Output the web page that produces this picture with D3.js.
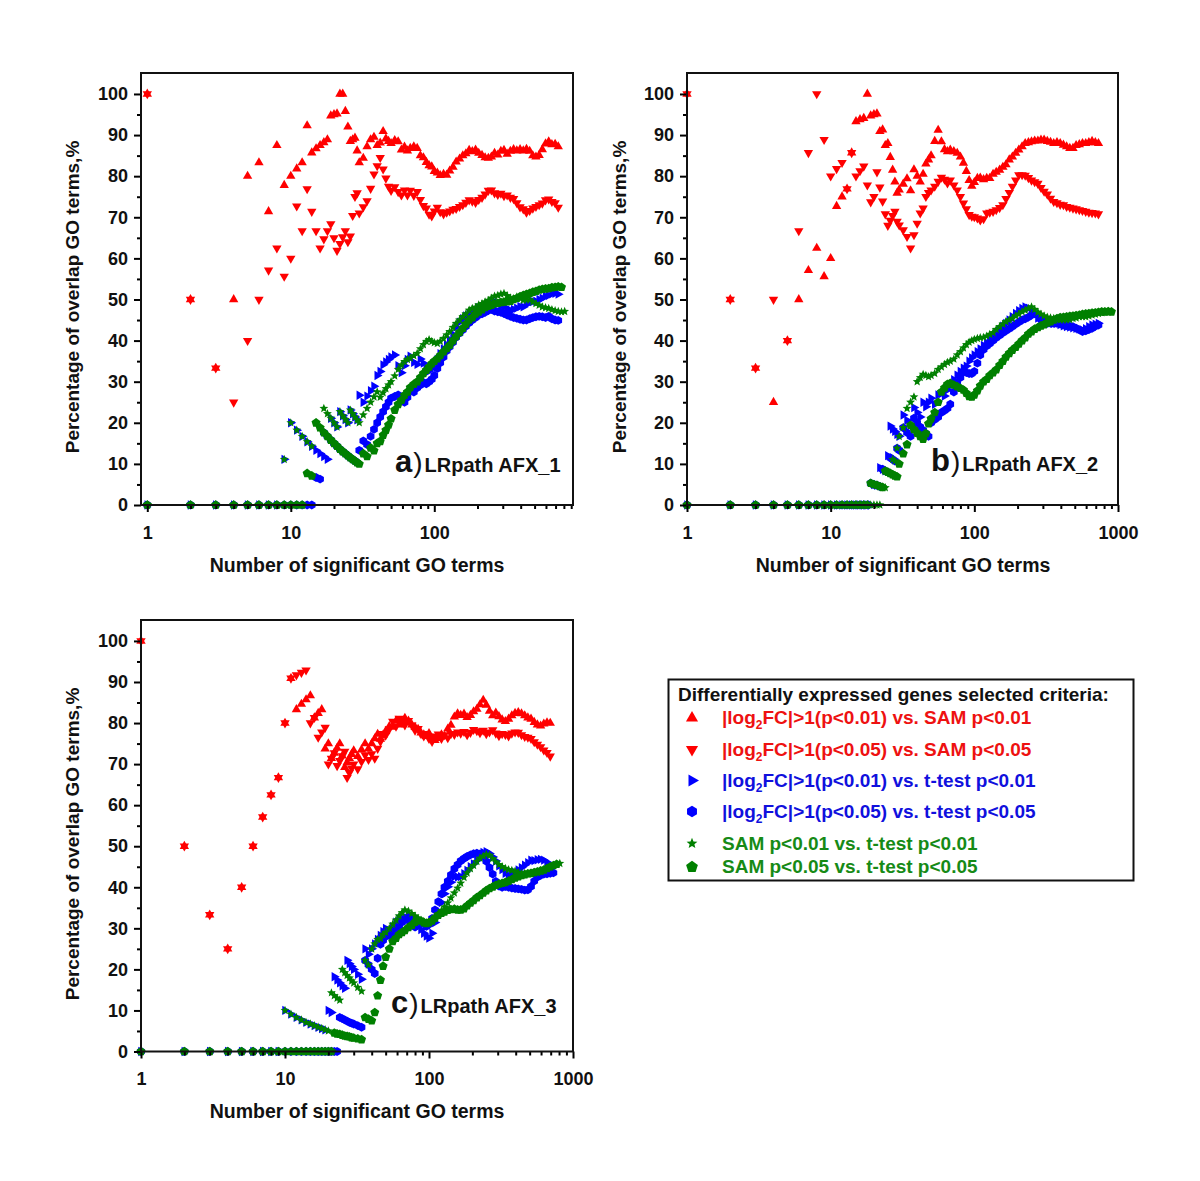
<!DOCTYPE html>
<html><head><meta charset="utf-8">
<script src="https://cdn.jsdelivr.net/npm/d3@7"></script>
<style>body{margin:0;background:#fff}svg text{font-family:Arial,"Liberation Sans",sans-serif}</style>
</head><body><svg id="chart" width="1200" height="1181"></svg>
<script>
// ---------- DATA ----------
const nTerms = [1,2,3,4,5,6,7,8,9,10,11,12,13,14,15,16,17,18,19,20,21,22,23,24,25,26,27,28,29,
30,32,34,36,38,40,42,44,46,48,50,
53,56,59,62,65,68,72,76,80,84,88,92,96,100,
105,110,116,122,128,135,142,150,158,166,175,184,194,204,
215,226,238,250,263,277,291,306,322,339,357,376,396,
417,439,462,486,511,538,566,596,627,660,695,731,
770,810,855,900];

const seriesLabels = [
  "|log2FC|>1(p<0.01) vs. SAM p<0.01",
  "|log2FC|>1(p<0.05) vs. SAM p<0.05",
  "|log2FC|>1(p<0.01) vs. t-test p<0.01",
  "|log2FC|>1(p<0.05) vs. t-test p<0.05",
  "SAM p<0.01 vs. t-test p<0.01",
  "SAM p<0.05 vs. t-test p<0.05"
];
const legendTitle = "Differentially expressed genes selected criteria:";
const panelLetters = ["a","b","c"];
const panelNames = ["LRpath AFX_1","LRpath AFX_2","LRpath AFX_3"];
const yTicks = [0,10,20,30,40,50,60,70,80,90,100];
const xTitle = "Number of significant GO terms";
const yTitle = "Percentage of overlap GO terms,%";

// Panel a
const aUp = [100,50,33.3,50,80,83.3,71.4,87.5,77.8,80,
81.8,83.3,92.3,85.7,86.7,87.5,88.2,88.9,94.7,95,
95.2,100,100,95.8,92,88.5,88.9,89.3,86.2,
83.3,84.4,87.2,88.9,89.5,87.5,88.1,90.9,89.1,88.5,88,
88.7,88.4,86.4,87.1,86.2,86.8,87.2,86.8,85,84.5,83.4,82.6,82.3,81.2,
80.8,80.2,80.5,80.3,81.3,82.2,83.5,84.2,85,85.5,86.3,86,86.4,85.6,
85.1,84.5,84.4,84.7,85.6,85.2,86.1,86.3,85.4,86.1,86.5,86.2,86.5,
86.2,86.6,86.1,85,84.7,85.1,86.5,87.9,88.4,87.7,87.8,87.2];
const aDown = [100,50,33.3,25,40,50,57.1,62.5,55.6,60,
72.7,66.7,76.9,71.4,66.7,62.5,64.7,66.7,68.4,65,
61.9,63.6,65.2,66.7,64,65.4,70.4,75,75.9,
71,72.5,74,77,80.5,82.5,84.5,81.7,79.5,77.5,76.5,
77.4,76.2,75.4,76.6,75.4,76.5,75.3,76.2,74.3,72.8,72.2,70.7,70.3,71.5,
72.4,71.3,70.8,71.2,71.5,71.9,72.1,72.6,73,73.6,74.2,73.9,73.6,74.3,
74.8,75.6,76.5,76.6,75.9,75.5,75.8,75.2,75.4,74.8,74.5,73.5,72.5,
72,71.2,71.6,72.2,72.6,73,73.4,74.2,74.4,73.8,73.5,72.4];
const aTri = [0,0,0,0,0,0,0,0,11.1,20,
18.2,16.7,15.4,14.3,13.3,12.5,11.8,11.1,21.1,20,
19,22.7,21.7,20.8,20,23.1,22.2,21.4,20.7,
26.7,25,26.5,27.8,28.9,31.5,32.5,34.1,34.8,35.4,36,
36.5,33.9,32.2,33.9,35.4,36.2,34.7,34.2,35.5,34.5,33,32.6,33.3,34.5,
35.4,36.8,38,39,40.2,41.5,43.3,44.5,45.3,46,46.6,47,47.4,48,
47.6,48.3,49,49.3,49.5,49,48.5,48.2,47.6,47.4,47.6,47.9,48.3,
48.2,48.8,49.3,49.5,49.6,50,50.3,50.8,51,51.4,51.5,51.3];
const aHex = [0,0,0,0,0,0,0,0,0,0,
0,0,0,0,6.7,6.3,17.6,16.7,15.8,15,
14.3,13.6,13,12.5,12,11.5,11.1,10.7,10.3,
13.3,15.6,14.7,16.7,18.4,20,21.4,22.7,23.9,25,26,
26.4,26.8,25.4,25,26.2,27.9,27.5,28.5,29.2,29.8,29.5,30,30.6,31.5,
33.2,34.6,36,37.5,38.5,39.6,40.8,41.8,42.6,43.5,44.3,45,45.6,46.2,
46.5,46.9,47.3,47.6,47.2,47,46.9,46.6,46.2,45.9,45.6,45.4,45.2,
45,45,45.3,45.6,45.8,45.9,45.8,45.6,45.9,45.3,45,44.9];
const aStar = [0,0,0,0,0,0,0,0,11.1,20,
18.2,16.7,15.4,14.3,20,18.8,23.5,22.2,21.1,20,
19,22.7,21.7,20.8,20,23.1,22.2,21.4,20.7,
20,21.9,23.5,25,26.3,27.5,26.2,27.3,28.3,29.2,30,
31.4,33,34,34.9,35.4,35.7,36.3,36.9,38,39,39.8,40.2,39.8,39.5,
39.3,39.8,40.5,41.4,42.2,43.2,44.2,45,45.8,46.5,47.4,47.8,48.1,48.7,
49,49.4,49.8,50.3,50.8,51,51.3,51.5,50.9,50.4,50.2,50.6,50.3,
49.8,49.9,49.9,49.4,49,48.6,48.2,48,47.8,47.5,47.3,47.1,
47,47.1];
const aPent = [0,0,0,0,0,0,0,0,0,0,
0,0,7.7,7.1,20,18.8,17.6,16.7,15.8,15,
14.3,13.6,13,12.5,12,11.5,11.1,10.7,10.3,
10,12.5,11.8,13.9,13.2,15,15.5,17,18.2,19.5,21,
23.1,24.5,25.5,26.7,27.5,28.6,29.4,30,31,32,32.8,33.6,34.4,35,
35.6,36.4,37.3,38.1,38.9,40,41,42,43,44,45,45.6,46.5,47,
47.5,48.1,48.4,48.6,49,49.1,49.3,49.4,49.5,49.6,50,50.3,50.7,
51,51.3,51.5,51.8,52,52.3,52.5,52.6,52.7,52.9,53,53.1,
53];

// Panel b
const bUp = [100,50,33.3,25,40,50,57.1,62.5,55.6,60,
72.7,75,76.9,85.7,93.3,93.8,94.1,100,94.7,95,
95.2,90.9,91.3,87.5,88,84.6,81.5,78.6,75.9,
76.7,78.1,79.4,76.5,81.6,80,78.6,80.5,83,84,85,
88.5,91.2,88.4,86.5,86,86.4,86,85.6,84.7,83.2,81.2,79,77.6,78.5,
79.5,79.6,79.2,79.5,79.5,80.5,81,81.5,82.2,82.8,84,84.7,85.6,86.4,
87.2,88,88.2,88.4,88.6,88.6,88.8,88.8,88.5,88.3,88,88.2,88,
87.6,87.2,86.8,86.8,87.5,87.7,88,88,88.2,88.5,88.2,88];
const bDown = [100,50,33.3,50,40,66.7,85.7,100,88.9,80,
81.8,83.3,76.9,85.7,80,81.3,82.4,77.8,73.7,75,
81,77.3,73.9,70.8,68,69.2,70.4,71.4,69,
68.1,66.9,65.3,62.5,65.7,68.5,71,72.2,75,76,76.6,
77.5,78.7,79.7,79.2,78.3,79,77.8,76.6,75,73.4,72,70.6,70.2,70.1,
69.8,69.3,69.6,71,71.2,71.4,71.8,72.3,73,74.5,76,77.5,79,80.3,
80.3,80.2,79.6,79,78.6,78.2,77.2,76.3,75.6,74.6,73.8,73.5,73.1,
73,72.6,72.4,72.2,72,71.8,71.6,71.4,71.2,71.1,71,70.8];
const bTri = [0,0,0,0,0,0,0,0,0,0,
0,0,0,0,0,0,0,0,0,5,
4.8,9.1,8.7,8.3,12,19.2,18.5,17.9,17.2,
16.7,21.9,20.6,19.4,23.7,22.5,21.4,25,23.9,25,26,
24.5,26.8,27.1,26.5,28,29,30.5,31.6,32.5,33.3,33.8,35,35.8,36.5,
37.3,38,38.8,39.5,40.3,41,41.9,42.6,43.5,44.2,45,45.8,46.6,47.3,
47.8,48.2,47.9,47.5,46.5,45.5,45,44.6,44.4,44.3,44.2,44.2,43.9,
43.6,43.4,43.3,43.1,43,42.8,42.6,42.9,43.4,43.8,44,44.2];
const bHex = [0,0,0,0,0,0,0,0,0,0,
0,0,0,0,0,0,0,0,5.3,5,
4.8,4.5,8.7,8.3,8,11.5,11.1,10.7,13.8,
13.3,18.8,17.6,16.7,21.1,20,19,18.2,17.4,16.7,20,
20.8,21.4,22.5,23,23.5,24.5,27.5,29.5,31,32.4,32.2,32,32,32.5,
34.5,36.5,37.8,38.7,39.3,40,40.7,41.3,41.9,42.4,42.9,43.4,44,44.5,
45,45.3,45.7,46.2,46.5,46.3,45.2,44.6,44.2,44.2,44.2,44.2,44,
43.8,43.6,43.5,43.4,43,42.6,42.2,42.4,42.7,43,43.5,43.8];
const bStar = [0,0,0,0,0,0,0,0,0,0,
0,0,0,0,0,0,0,0,0,0,
0,0,4.3,4.2,8,7.7,11.1,10.7,13.8,
16.7,18.8,23.5,25,26.3,30,31,31.8,31.5,31.2,31.5,
32,33,33.6,34.2,34.7,35,35.5,36.5,37.3,38.2,39,39.6,40,40.3,
40.5,40.7,40.8,41.1,41.5,41.9,42.7,43.4,44,44.6,45,45.4,46,46.4,
47,47.4,47.8,48.2,47.6,46.9,46.4,46,45.7,45.5,45.4,45.2,45,
45,45,45.1,45.4,45.5,45.8,45.8,45.8,46,46.2,46.4,46.6,
46.8,46.9,47];
const bPent = [0,0,0,0,0,0,0,0,0,0,
0,0,0,0,0,0,0,0,5.3,5,
4.8,4.5,4.3,8.3,8,7.7,7.4,7.1,6.9,
10,12.5,14.7,19.4,18.4,17.5,16.7,16,17.4,19.8,21,
22.5,25,27.5,28.5,29.4,29.6,29.2,28.8,28.4,28,27.2,26.4,26.3,26.8,
27.8,29,30,30.6,31.5,32.2,32.9,34,35,36,36.9,37.7,38.4,39.2,
40,40.7,41.6,42.2,42.8,43.2,43.6,43.9,44.3,44.6,45,45.4,45.6,
45.7,45.8,45.9,46,46.1,46.2,46.4,46.5,46.6,46.7,46.8,46.9,
47,47,47.1,47];

// Panel c
const cUp = [100,50,33.3,25,40,50,57.1,62.5,66.7,80,
90.9,83.3,84.6,85.7,86.7,81.3,82.4,83.3,73.7,75,
71.4,72.7,73.9,75,72,69.2,70.4,71.4,72.4,
73.3,71.9,73.5,75,73.7,75,76.2,77.3,76.1,77.1,78,
79.2,79,80.5,79.6,80,81.2,80.5,79.6,79,78.5,77.6,77.2,76.8,77.5,
76.2,75.8,76.3,77.2,76.8,78.6,79.5,81.5,82.3,81.9,82.2,81.4,81.9,82.8,
83.4,84.5,85.6,84.4,82.9,81.8,82.5,81.6,80.8,80.4,81,81.8,82.4,
82.6,82.3,81.8,81.3,81,80.2,79.6,79.3,79.8,80.1,80];
const cDown = [100,50,33.3,25,40,50,57.1,62.5,66.7,80,
90.9,91.7,92.3,92.9,80,81.3,76.5,77.8,78.9,70,
71.4,72.7,69.6,70.8,72,73.1,66.7,67.9,69,
70,68.8,70.6,72.2,71.1,72.5,71.4,73.8,75.5,77.4,77,
78.5,80.4,79.2,81.1,80.1,79.5,80.6,79.5,78.2,78.6,77.4,76.8,77.4,76.2,
75.5,76.8,77.3,76.2,77.1,76.4,77.4,77.2,77.8,77.5,77.9,77.1,77.7,78.4,
78.1,77.6,78.2,77.4,77.8,78.3,77.5,76.9,77.4,77.2,76.8,77.5,77.8,
77.7,77.1,76.7,76.5,76.2,75.4,74.8,74.2,73.4,72.8,71.9];
const cTri = [0,0,0,0,0,0,0,0,0,10,
9.1,8.3,7.7,7.1,6.7,6.3,5.9,5.6,5.3,10,
9.5,18.2,17.4,16.7,16,15.4,22.2,21.4,20.7,
20,18.8,17.6,25,23.7,25,26.2,27.3,28.3,29.2,30,
29.5,30.4,31.5,32.3,32,32.8,33.2,32.5,31.4,30.5,29.7,28.8,28.1,27.6,
28.8,31.4,34.2,36.3,38.4,40.1,41.2,42.6,42.5,42.6,43.3,44.1,45,45.7,
46.5,47.6,48.5,48.7,48.2,47.4,46.4,45.2,44.3,43.4,42.8,43.1,43.6,
44.2,44.8,45.4,46,46.6,46.5,46.7,46.8,46.6,46.1,45.4,45];
const cHex = [0,0,0,0,0,0,0,0,0,0,
0,0,0,0,0,0,0,0,0,0,
0,0,0,8.3,8,7.7,7.4,7.1,6.9,
6.7,6.3,5.9,22.2,21.1,20,19,22.7,26.1,27.1,28,
28.3,28.6,29.7,30.6,31.5,32.4,31.9,31,30.3,30.9,31.6,31.2,30.5,31,
32.4,34.5,36.5,38.4,40,41.5,43,44.5,45.5,46.4,47,47.5,47.9,48.2,
48.3,48.1,47.5,46.3,44.8,43.2,41.4,40.3,40,40.2,40,39.8,39.7,
39.6,39.5,39.3,39.4,40.2,41.5,42.5,42.9,43.2,43.3,43.4,43.5];
const cStar = [0,0,0,0,0,0,0,0,0,10,
9.1,8.3,7.7,7.1,6.7,6.3,5.9,5.6,5.3,5,
14.3,13.6,13,12.5,20,19.2,18.5,17.9,17.2,
16.7,15.6,14.7,22.2,21.1,25,26.2,27.3,27.5,28.5,29,
30,31,32,33,33.8,34.5,34.2,33.6,33,32.4,32,31.7,31.4,31.5,
32,32.7,33.5,34.3,35.2,36.2,37.4,38.6,39.8,41,42.4,43.5,44.5,45.3,
46.3,47.1,47.6,48,47.8,47,46.2,45.5,45,44.6,44.3,44.1,43.9,
43.6,43.4,43.4,43.3,43.4,43.5,43.6,43.9,44.2,44.6,45,45.3,
45.6,45.8];
const cPent = [0,0,0,0,0,0,0,0,0,0,
0,0,0,0,0,0,0,0,0,0,
0,4.5,4.3,4.2,4,3.8,3.7,3.6,3.4,
3.3,3.1,2.9,8.3,7.9,7.5,9.5,13.6,17.4,20.8,23,
25,26.8,27.6,28.5,29,29.5,30.2,30.8,31.5,32,31.8,31.4,31.2,31.4,
31.8,32.5,33.2,33.7,34,34.4,34.6,34.7,34.5,34.5,34.8,35.5,36.2,36.8,
37.5,38,38.6,39.2,39.7,40.1,40.5,40.8,41,41.2,41.5,41.9,42.3,
42.6,42.9,43.1,43.3,43.4,43.6,43.8,44,44.2,44.6,45,45.3,
45.6];

// ---------- STYLE ----------
const seriesColors = ["#ff0000","#ff0000","#0000ff","#0000ff","#008000","#008000"];
const textColors = ["#ee1111","#ee1111","#1010dd","#1010dd","#168a16","#168a16"];
const seriesShapes = ["up","down","right","hex","star","pent"];

function shapePath(kind, r){
  const poly = (n, rot, rad) => "M" + d3.range(n).map(i => {
    const a = rot + i * 2 * Math.PI / n;
    return [(rad*Math.cos(a)).toFixed(2), (rad*Math.sin(a)).toFixed(2)].join(",");
  }).join("L") + "Z";
  switch(kind){
    case "up": return poly(3, -Math.PI/2, r);
    case "down": return poly(3, Math.PI/2, r);
    case "right": return poly(3, 0, r);
    case "hex": return poly(6, -Math.PI/2, r*0.82);
    case "pent": return poly(5, -Math.PI/2, r*0.88);
    case "star": {
      const pts = d3.range(10).map(i => {
        const a = -Math.PI/2 + i*Math.PI/5;
        const rr = i%2 === 0 ? r*0.95 : r*0.42;
        return [(rr*Math.cos(a)).toFixed(2),(rr*Math.sin(a)).toFixed(2)].join(",");
      });
      return "M" + pts.join("L") + "Z";
    }
  }
}

const panels = [
  {i:0, series:[aUp,aDown,aTri,aHex,aStar,aPent], left:141, right:573, top:73, bottom:505,
   xDomain:[0.904, 926], xMajor:[1,10,100], lab:[395,472], yT:[79,297], xT:[357,572]},
  {i:1, series:[bUp,bDown,bTri,bHex,bStar,bPent], left:687, right:1118, top:73, bottom:505,
   xDomain:[1,1000], xMajor:[1,10,100,1000], lab:[931,471], yT:[626,297], xT:[903,572]},
  {i:2, series:[cUp,cDown,cTri,cHex,cStar,cPent], left:141, right:573, top:620, bottom:1051.5,
   xDomain:[1,1000], xMajor:[1,10,100,1000], lab:[391,1013], yT:[79,844], xT:[357,1118]}
];

const svg = d3.select("#chart");

panels.forEach(p => {
  const x = d3.scaleLog().domain(p.xDomain).range([p.left, p.right]);
  const y = d3.scaleLinear().domain([0, 105.1]).range([p.bottom, p.top]);
  const g = svg.append("g");

  // points
  p.series.forEach((vals, si) => {
    const pts = vals.map((v, k) => ({n: nTerms[k], v})).filter(d => d.v != null && d.n <= p.xDomain[1]);
    const path = shapePath(seriesShapes[si], seriesShapes[si] === "star" ? 4.9 : 5.4);
    g.append("g").selectAll("path").data(pts).join("path")
      .attr("d", path)
      .attr("transform", d => `translate(${x(d.n).toFixed(2)},${y(d.v).toFixed(2)})`)
      .attr("fill", seriesColors[si]);
  });

  // minor ticks
  const minorX = [];
  [1,10,100].forEach(dec => d3.range(2,10).forEach(m => { const v = m*dec; if (v > p.xDomain[0] && v < p.xDomain[1]) minorX.push(v); }));
  const axB = g.append("g").attr("transform", `translate(0,${p.bottom})`)
    .call(d3.axisBottom(x).tickValues(minorX).tickSize(4).tickFormat(""));
  const axB2 = g.append("g").attr("transform", `translate(0,${p.bottom})`)
    .call(d3.axisBottom(x).tickValues(p.xMajor).tickSize(7).tickPadding(14).tickFormat(d3.format("d")));
  const axL = g.append("g").attr("transform", `translate(${p.left},0)`)
    .call(d3.axisLeft(y).tickValues(d3.range(5,100,10)).tickSize(4).tickFormat(""));
  const axL2 = g.append("g").attr("transform", `translate(${p.left},0)`)
    .call(d3.axisLeft(y).tickValues(yTicks).tickSize(7).tickPadding(6));
  [axB, axB2, axL, axL2].forEach(a => {
    a.select(".domain").remove();
    a.selectAll("line").attr("stroke", "#000").attr("stroke-width", 2);
    a.selectAll("text").attr("font-size", 18).attr("font-weight", "bold").attr("fill", "#111")
      .attr("font-family", "Arial, 'Liberation Sans', sans-serif");
  });

  // frame
  g.append("rect").attr("x", p.left).attr("y", p.top)
    .attr("width", p.right - p.left).attr("height", p.bottom - p.top)
    .attr("fill", "none").attr("stroke", "#111").attr("stroke-width", 2);

  // titles
  g.append("text").attr("x", p.xT[0]).attr("y", p.xT[1]).attr("text-anchor", "middle")
    .attr("font-size", 19.5).attr("font-weight", "bold").attr("fill", "#111").text(xTitle);
  g.append("text").attr("transform", `translate(${p.yT[0]},${p.yT[1]}) rotate(-90)`)
    .attr("text-anchor", "middle").attr("font-size", 19).attr("font-weight", "bold")
    .attr("fill", "#111").text(yTitle);

  // panel label
  const lb = g.append("text").attr("x", p.lab[0]).attr("y", p.lab[1]).attr("fill", "#111");
  lb.append("tspan").attr("font-size", 31).attr("font-weight", "bold").text(panelLetters[p.i]);
  lb.append("tspan").attr("font-size", 28).attr("font-weight", "normal").attr("dx", 1).text(")");
  lb.append("tspan").attr("font-size", 20).attr("font-weight", "bold").attr("dx", 2).text(panelNames[p.i]);
});

// legend
const leg = svg.append("g");
leg.append("rect").attr("x", 668.5).attr("y", 679.5).attr("width", 465).attr("height", 201)
  .attr("fill", "#fff").attr("stroke", "#111").attr("stroke-width", 2);
leg.append("text").attr("x", 678).attr("y", 701).attr("font-size", 19).attr("font-weight", "bold")
  .attr("fill", "#111").text(legendTitle);
const legY = [724, 755.5, 786.5, 817.5, 849.5, 873];
seriesLabels.forEach((lab, i) => {
  leg.append("path").attr("d", shapePath(seriesShapes[i], seriesShapes[i] === "star" ? 6 : 7))
    .attr("transform", `translate(692,${legY[i] - 6})`).attr("fill", seriesColors[i]);
  const t = leg.append("text").attr("x", 722).attr("y", legY[i]).attr("font-size", 19)
    .attr("font-weight", "bold").attr("fill", textColors[i]);
  const m = lab.match(/^(\|log)2(.*)$/);
  if (m) {
    t.append("tspan").text(m[1]);
    t.append("tspan").attr("font-size", 12).attr("dy", 5).text("2");
    t.append("tspan").attr("dy", -5).text(m[2]);
  } else t.text(lab);
});
</script></body></html>
